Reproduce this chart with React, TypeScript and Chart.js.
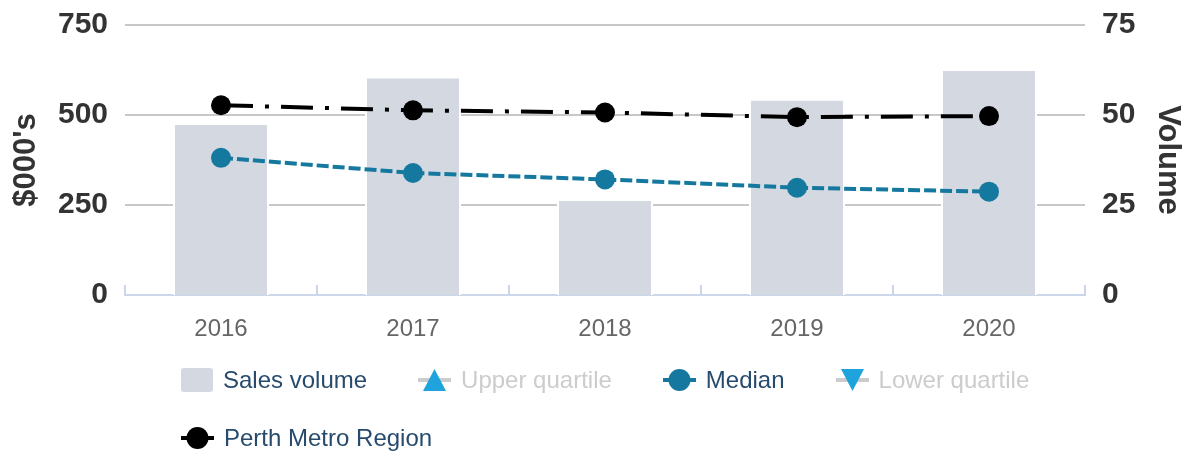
import React, { useEffect, useRef } from "react";
import { Chart, registerables } from "chart.js";

Chart.register(...registerables);

const years = ["2016", "2017", "2018", "2019", "2020"];
const salesVolume = [47.2, 60.2, 26.2, 54.0, 62.3];
const medianValues = [381, 339, 321, 298, 287];
const perthValues = [527, 513, 507, 494, 497];
const leftTicks = [0, 250, 500, 750];
const rightTicks = [0, 25, 50, 75];

const FONT = "'Liberation Sans', Arial, sans-serif";
const BAR_COLOR = "#d4d9e1";
const MEDIAN_COLOR = "#15799f";
const PERTH_COLOR = "#000000";
const QUARTILE_COLOR = "#1ea3dc";
const AXIS_COLOR = "#ccd6eb";
const GRID_COLOR = "#c8c8c8";

const legendItems = [
  { name: "Sales volume", kind: "box", color: BAR_COLOR, hidden: false },
  { name: "Upper quartile", kind: "up", color: QUARTILE_COLOR, hidden: true },
  { name: "Median", kind: "circle", color: MEDIAN_COLOR, hidden: false },
  { name: "Lower quartile", kind: "down", color: QUARTILE_COLOR, hidden: true },
  { name: "Perth Metro Region", kind: "circle", color: PERTH_COLOR, hidden: false },
];

function Symbol({ kind, color, hidden }: { kind: string; color: string; hidden: boolean }) {
  if (kind === "box") {
    return <div style={{ width: 32, height: 24, background: color, borderRadius: 3 }} />;
  }
  const lineColor = hidden ? "#cccccc" : color;
  let marker: any = null;
  if (kind === "circle") marker = <circle cx={16.5} cy={12} r={11} fill={color} />;
  if (kind === "up") marker = <polygon points="5,23 28,23 16.5,1" fill={color} />;
  if (kind === "down") marker = <polygon points="5,1 28,1 16.5,23" fill={color} />;
  return (
    <svg width={33} height={24} style={{ display: "block" }}>
      <line x1={0} y1={12} x2={33} y2={12} stroke={lineColor} strokeWidth={4} />
      {marker}
    </svg>
  );
}

const xTicksPlugin = {
  id: "xUpTicks",
  afterDraw(chart: any) {
    const xs = chart.scales.x;
    const ctx = chart.ctx;
    const bottom = chart.chartArea.bottom;
    ctx.save();
    ctx.strokeStyle = AXIS_COLOR;
    ctx.lineWidth = 2;
    for (let i = 0; i <= years.length; i++) {
      const x = Math.round(xs.getPixelForValue(i - 0.5));
      ctx.beginPath();
      ctx.moveTo(x, bottom);
      ctx.lineTo(x, bottom - 10);
      ctx.stroke();
    }
    ctx.restore();
  },
};

export default function App() {
  const ref = useRef<HTMLCanvasElement>(null);
  useEffect(() => {
    if (!ref.current) return;
    const chart = new Chart(ref.current, {
      type: "bar",
      data: {
        labels: years,
        datasets: [
          {
            type: "bar",
            label: "Sales volume",
            data: salesVolume,
            yAxisID: "y1",
            backgroundColor: BAR_COLOR,
            borderColor: "#ffffff",
            borderWidth: { left: 2, right: 2, top: 0, bottom: 0 } as any,
            borderSkipped: false as any,
            categoryPercentage: 1,
            barPercentage: 0.5,
            order: 3,
          },
          {
            type: "line",
            label: "Median",
            data: medianValues,
            yAxisID: "y",
            borderColor: MEDIAN_COLOR,
            backgroundColor: MEDIAN_COLOR,
            borderWidth: 4,
            borderDash: [12, 4],
            pointRadius: 10,
            pointBorderWidth: 0,
            tension: 0,
            order: 2,
          },
          {
            type: "line",
            label: "Perth Metro Region",
            data: perthValues,
            yAxisID: "y",
            borderColor: PERTH_COLOR,
            backgroundColor: PERTH_COLOR,
            borderWidth: 4,
            borderDash: [32, 12, 4, 12],
            pointRadius: 10,
            pointBorderWidth: 0,
            tension: 0,
            order: 1,
          },
        ],
      },
      options: {
        responsive: false,
        animation: false,
        layout: { padding: { top: 25, bottom: 0, left: 0, right: 0 } },
        plugins: { legend: { display: false }, tooltip: { enabled: false } },
        scales: {
          x: {
            grid: { display: false, drawTicks: false },
            border: { display: true, color: AXIS_COLOR, width: 2 },
            ticks: { color: "#666666", font: { family: FONT, size: 24 }, padding: 20 },
            afterFit: (s: any) => {
              s.height = 159;
            },
          },
          y: {
            position: "left",
            min: 0,
            max: 750,
            afterBuildTicks: (s: any) => {
              s.ticks = leftTicks.map((v) => ({ value: v }));
            },
            grid: {
              drawTicks: false,
              lineWidth: 2,
              color: (c: any) => (c.tick && c.tick.value === 0 ? "rgba(0,0,0,0)" : GRID_COLOR),
            },
            border: { display: false },
            ticks: { color: "#333333", font: { family: FONT, size: 30, weight: "bold" }, padding: 17 },
            title: {
              display: true,
              text: "$000's",
              color: "#333333",
              font: { family: FONT, size: 31, weight: "bold" },
              padding: { top: 8, bottom: 0 },
            },
            afterFit: (s: any) => {
              s.width = 125;
              s.paddingTop = 0;
              s.paddingBottom = 0;
            },
          },
          y1: {
            position: "right",
            min: 0,
            max: 75,
            afterBuildTicks: (s: any) => {
              s.ticks = rightTicks.map((v) => ({ value: v }));
            },
            grid: { display: false, drawTicks: false },
            border: { display: false },
            ticks: { color: "#333333", font: { family: FONT, size: 30, weight: "bold" }, padding: 17 },
            title: {
              display: true,
              text: "Volume",
              color: "#333333",
              font: { family: FONT, size: 31, weight: "bold" },
              padding: { top: 1, bottom: 0 },
            },
            afterFit: (s: any) => {
              s.width = 102;
              s.paddingTop = 0;
              s.paddingBottom = 0;
            },
          },
        },
      } as any,
      plugins: [xTicksPlugin],
    });
    return () => chart.destroy();
  }, []);

  return (
    <div style={{ position: "absolute", left: 0, top: 0, width: 1187, height: 454, background: "#ffffff" }}>
      <canvas ref={ref} width={1187} height={454} style={{ width: 1187, height: 454, display: "block" }} />
      <div
        style={{
          position: "absolute",
          left: 181,
          top: 351,
          width: 900,
          display: "flex",
          flexWrap: "wrap",
          columnGap: 51,
          fontFamily: FONT,
          fontSize: 24,
        }}
      >
        {legendItems.map((it) => (
          <div key={it.name} style={{ display: "flex", alignItems: "center", height: 58 }}>
            <Symbol kind={it.kind} color={it.color} hidden={it.hidden} />
            <span style={{ marginLeft: 10, color: it.hidden ? "#cccccc" : "#274b6d", whiteSpace: "nowrap" }}>
              {it.name}
            </span>
          </div>
        ))}
      </div>
    </div>
  );
}
